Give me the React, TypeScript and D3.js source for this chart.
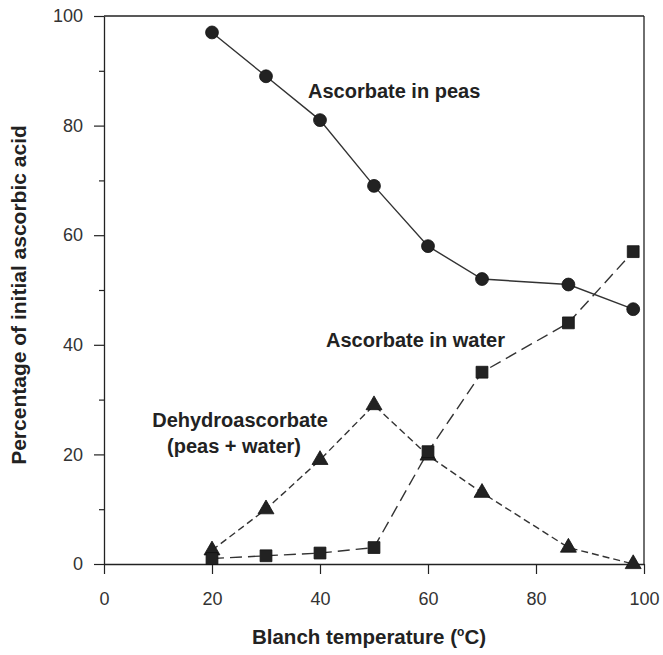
import { useEffect, useRef } from 'react'
import * as d3 from 'd3'

const temps = [20, 30, 40, 50, 60, 70, 86, 98]
const peas = [97, 89, 81, 69, 58, 52, 51, 46.5]
const water = [1, 1.5, 2, 3, 20.5, 35, 44, 57]
const dehydro = [2.5, 10, 19, 29, 19.8, 13, 3, 0]

const xTicks = [0, 20, 40, 60, 80, 100]
const yTicks = [0, 20, 40, 60, 80, 100]
const yMinor = [10, 30, 50, 70, 90]

const width = 663
const height = 655
const margin = { top: 16, right: 19, bottom: 91, left: 104 }
const ink = '#222'
const font = '"Liberation Sans", Arial, sans-serif'

export default function App() {
  const svgRef = useRef<SVGSVGElement>(null)

  useEffect(() => {
    if (!svgRef.current) return
    const svg = d3.select(svgRef.current)
    svg.selectAll('*').remove()

    const innerWidth = width - margin.left - margin.right
    const innerHeight = height - margin.top - margin.bottom

    const x = d3.scaleLinear().domain([0, 100]).range([0, innerWidth])
    const y = d3.scaleLinear().domain([0, 100]).range([innerHeight, 0])

    const g = svg.append('g').attr('transform', `translate(${margin.left},${margin.top})`)

    // frame: top and right edges
    g.append('line').attr('x1', 0).attr('x2', innerWidth).attr('y1', 0).attr('y2', 0)
      .attr('stroke', ink).attr('stroke-width', 1.3)
    g.append('line').attr('x1', innerWidth).attr('x2', innerWidth).attr('y1', 0).attr('y2', innerHeight)
      .attr('stroke', ink).attr('stroke-width', 1.3)

    const xAxis = g.append('g')
      .attr('transform', `translate(0,${innerHeight})`)
      .call(d3.axisBottom(x).tickValues(xTicks).tickSize(10).tickPadding(18).tickSizeOuter(0))
    const yAxis = g.append('g')
      .call(d3.axisLeft(y).tickValues(yTicks).tickSize(10).tickPadding(11).tickSizeOuter(0))
    g.append('g')
      .call(d3.axisLeft(y).tickValues(yMinor).tickSize(5).tickFormat(() => '').tickSizeOuter(0))
      .call(s => s.select('.domain').remove())
      .selectAll('line').attr('stroke', ink).attr('stroke-width', 1.2)

    ;[xAxis, yAxis].forEach(a => {
      a.select('.domain').attr('stroke', ink).attr('stroke-width', 1.3)
      a.selectAll('.tick line').attr('stroke', ink).attr('stroke-width', 1.2)
      a.selectAll('.tick text')
        .attr('fill', '#333')
        .style('font-family', font)
        .style('font-size', '18px')
    })

    const line = d3.line<number>()
      .x((_, i) => x(temps[i]))
      .y(d => y(d))

    // drawn in this order so the squares sit on top of the triangles
    const series = [
      { values: peas, dash: null as string | null, shape: 'circle' },
      { values: dehydro, dash: '7,4', shape: 'triangle' },
      { values: water, dash: '12,6', shape: 'square' },
    ]

    series.forEach(s => {
      const path = g.append('path')
        .attr('d', line(s.values))
        .attr('fill', 'none')
        .attr('stroke', '#333')
        .attr('stroke-width', 1.4)
      if (s.dash) path.attr('stroke-dasharray', s.dash)
    })

    series.forEach(s => {
      const symType = s.shape === 'circle' ? d3.symbolCircle : s.shape === 'square' ? d3.symbolSquare : d3.symbolTriangle
      const size = s.shape === 'circle' ? 130 : s.shape === 'square' ? 140 : 110
      g.selectAll(null)
        .data(s.values)
        .join('path')
        .attr('d', d3.symbol().type(symType).size(size)())
        .attr('transform', (d, i) => `translate(${x(temps[i])},${y(d)})`)
        .attr('fill', ink)
        .attr('stroke', '#111')
        .attr('stroke-width', 0.8)
    })

    const label = (tx: number, ty: number, text: string, anchor = 'start') =>
      svg.append('text')
        .attr('x', tx).attr('y', ty)
        .attr('text-anchor', anchor)
        .attr('fill', ink)
        .style('font-family', font)
        .style('font-size', '20px')
        .style('font-weight', 'bold')
        .text(text)

    label(308, 98, 'Ascorbate in peas')
    label(326, 347, 'Ascorbate in water')
    label(240, 427, 'Dehydroascorbate', 'middle')
    label(234, 453, '(peas + water)', 'middle')

    // axis titles
    const xt = svg.append('text')
      .attr('x', 369)
      .attr('y', 644)
      .attr('text-anchor', 'middle')
      .attr('fill', ink)
      .style('font-family', font)
      .style('font-size', '20.5px')
      .style('font-weight', 'bold')
    xt.append('tspan').text('Blanch temperature (')
    xt.append('tspan').attr('dy', -8).style('font-size', '12px').text('o')
    xt.append('tspan').attr('dy', 8).text('C)')

    svg.append('text')
      .attr('transform', 'translate(26,295) rotate(-90)')
      .attr('text-anchor', 'middle')
      .attr('fill', ink)
      .style('font-family', font)
      .style('font-size', '21px')
      .style('font-weight', 'bold')
      .text('Percentage of initial ascorbic acid')
  }, [])

  return (
    <div style={{ position: 'absolute', left: 0, top: 0, width, height, background: '#fff' }}>
      <svg ref={svgRef} width={width} height={height} style={{ display: 'block' }} />
    </div>
  )
}
